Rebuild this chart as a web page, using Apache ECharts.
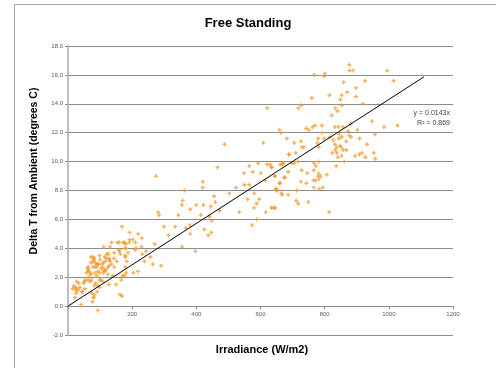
<!DOCTYPE html>
<html>
<head>
<meta charset="utf-8">
<script src="https://cdn.jsdelivr.net/npm/echarts@6/dist/echarts.min.js"></script>
<style>
  html, body { margin: 0; padding: 0; background: #fff; }
  #main { width: 496px; height: 368px; }
</style>
</head>
<body>
<div id="main"></div>
<script>
// irradiance (W/m2), delta T (degrees C) pairs
var lowCluster = [
  [15,1.2],[17,1.4],[22,0.6],[23,1.3],[25,1.1],[25,0.9],[27,1.7],[29,1.2],[32,1.1],[33,1.6],
  [37,1.3],[41,0.1],[44,1.0],[45,1.0],[49,1.6],[51,1.7],[53,1.2],[54,1.8],[58,2.3],[61,2.6],
  [62,1.8],[62,2.4],[63,2.7],[64,2.5],[66,2.0],[69,1.7],[69,2.3],[72,3.0],[72,3.4],[72,2.2],
  [74,1.8],[74,0.9],[76,0.3],[77,3.1],[78,2.7],[79,3.4],[79,0.6],[82,3.3],[82,3.2],[82,0.8],
  [82,0.6],[82,1.4],[84,2.3],[84,2.7],[85,3.0],[86,1.6],[89,2.9],[89,2.1],[90,2.7],[91,1.0],
  [93,2.4],[93,1.4],[93,-0.3],[94,2.9],[96,2.9],[98,2.3],[98,3.5],[98,1.3],[98,1.8],[100,3.2],
  [103,1.8],[104,2.6],[107,2.9],[108,1.7],[108,2.7],[110,3.0],[110,2.3],[111,4.1],[113,2.5],[114,2.4],
  [115,3.4],[116,3.1],[118,2.5],[120,3.3],[121,3.6],[124,2.2],[124,2.7],[126,3.6],[128,3.3],[128,2.8],
  [128,1.5],[128,3.2],[131,3.1],[131,4.1],[136,4.4],[136,2.9],[139,2.1],[143,3.3],[144,3.7],[144,2.7],
  [150,1.5],[152,3.1],[154,4.4],[160,3.8],[160,3.9],[160,4.4],[162,0.8],[163,3.6],[166,1.8],[168,5.5],
  [168,0.7],[170,2.1],[172,4.4],[176,4.4],[176,2.1],[178,2.7],[178,4.0],[178,3.5],[179,3.4],[180,4.3],
  [181,4.0],[181,2.3],[183,3.1],[187,3.7],[191,4.4],[192,5.1],[192,4.6],[202,4.6],[204,2.3],[209,3.9],
  [210,4.4],[212,4.0],[218,2.4],[219,5.0],[229,4.1],[230,4.7],[231,3.6],[238,3.1],[243,3.8],[257,3.4],
  [264,2.9],[270,4.3],[290,2.8]
];
var midRange = [
  [274,9.0],[281,6.5],[284,6.3],[299,5.5],[313,4.9],[334,5.5],[344,6.3],[355,7.0],[355,4.1],[357,7.3],
  [363,8.0],[367,5.4],[380,5.6],[381,6.7],[381,5.0],[397,3.8],[400,7.0],[414,6.3],[420,8.6],[420,8.2],
  [422,7.0],[425,5.3],[437,4.9],[441,6.2],[445,6.9],[447,5.1],[448,5.9],[455,7.6],[459,7.2],[466,9.6],
  [472,6.6],[488,11.2],[503,7.8],[524,8.2],[534,6.5],[549,9.2],[550,8.4],[560,7.4],[565,9.7],[565,8.4],
  [574,5.6],[576,9.3],[580,6.8],[581,7.8],[588,7.1],[588,6.0],[593,9.9],[596,7.4],[601,9.2],[609,11.3],
  [615,8.7],[616,6.5],[621,13.7],[621,9.8],[630,9.8],[634,9.6],[634,6.8],[636,9.6],[636,6.8],[643,6.8],
  [644,9.0],[645,9.0],[646,6.8],[647,8.1],[649,8.0],[650,8.1],[652,8.0],[659,12.2],[659,8.5],[661,9.8],
  [661,8.5],[664,12.0],[665,7.8],[667,9.8],[668,7.7],[670,9.9],[672,9.9],[674,8.9],[676,8.9],[682,11.6],
  [686,9.3],[686,7.7],[688,10.5],[689,10.5],[698,9.9]
];
var highRange = [
  [705,11.3],[705,9.9],[710,10.6],[711,7.3],[713,8.0],[718,13.7],[718,10.0],[718,7.1],[726,13.9],[726,11.4],
  [726,8.6],[728,9.4],[729,11.0],[735,11.0],[742,12.3],[743,8.5],[746,9.2],[749,7.2],[751,12.2],[760,14.4],
  [762,12.4],[765,8.7],[766,9.4],[766,8.2],[767,9.9],[768,16.0],[770,12.5],[772,8.7],[773,9.7],[777,11.3],
  [780,11.6],[780,9.0],[781,9.2],[782,11.0],[782,10.0],[782,8.8],[783,8.1],[787,9.0],[791,12.5],[791,12.0],
  [794,8.2],[798,11.6],[799,15.9],[801,16.1],[807,9.1],[814,6.5],[815,14.6],[816,11.7],[822,13.2],[824,10.6],
  [827,11.5],[832,12.4],[832,11.2],[833,13.7],[833,10.8],[836,9.7],[837,11.0],[838,10.6],[840,13.5],[841,10.3],
  [843,12.4],[844,11.6],[845,11.9],[848,11.1],[849,14.3],[852,11.0],[853,14.6],[853,13.9],[853,11.7],[853,10.4],
  [857,12.4],[858,10.8],[859,15.5],[861,10.0],[867,11.4],[868,10.8],[870,14.8],[873,12.1],[877,16.7],[877,16.3],
  [877,11.8],[881,12.6],[882,11.7],[888,16.3],[895,10.4],[897,15.1],[898,14.5],[902,12.2],[908,10.5],[909,11.6],
  [916,10.6],[919,14.0],[926,15.6],[927,10.3],[932,11.2],[948,12.8],[953,10.6],[957,11.9],[958,10.2],[985,12.4],
  [995,16.3],[1015,15.6],[1027,12.5]
];

// linear trend through the origin
var trendSlope = 0.0143;
var trendX = [0, 1110];
var trendLabels = ['y = 0.0143x', 'R\u00b2 = 0.869'];

var xTicks = [0, 1200, 200];
var yTicks = [-2, 18, 2];

var chart = echarts.init(document.getElementById('main'));

var plus = 'path://M1,0H2V1H3V2H2V3H1V2H0V1H1Z';
var labelFont = 'Liberation Sans';
var gridTop = 46, gridBottom = 33, chartH = 368;
// shift the x axis up so it crosses the y axis at 0
var zeroShift = (chartH - gridTop - gridBottom) * (0 - yTicks[0]) / (yTicks[1] - yTicks[0]);

var option = {
  backgroundColor: '#fff',
  animation: false,
  title: {
    text: 'Free Standing',
    left: 'center',
    top: 12,
    textStyle: { fontFamily: labelFont, fontWeight: 'bold', fontSize: 13, color: '#000' }
  },
  grid: { left: 68, right: 43, top: gridTop, bottom: gridBottom },
  xAxis: {
    type: 'value',
    min: xTicks[0], max: xTicks[1], interval: xTicks[2],
    offset: -zeroShift,
    axisLine: { onZero: false, lineStyle: { color: '#8c8c8c', width: 1 } },
    axisTick: { show: true, length: 3, lineStyle: { color: '#8c8c8c' } },
    axisLabel: {
      fontSize: 6, color: '#595959', fontFamily: labelFont, margin: 5,
      formatter: function (v) { return v === 0 ? '' : v; }
    },
    splitLine: { show: false }
  },
  yAxis: {
    type: 'value',
    min: yTicks[0], max: yTicks[1], interval: yTicks[2],
    axisLine: { show: true, lineStyle: { color: '#bfbfbf', width: 2 } },
    axisTick: { show: true, length: 3, lineStyle: { color: '#8c8c8c' } },
    axisLabel: {
      fontSize: 6, color: '#595959', fontFamily: labelFont, margin: 5,
      formatter: function (v) { return v.toFixed(1); }
    },
    splitLine: { show: true, lineStyle: { color: '#8c8c8c', width: 1 } }
  },
  series: [
    {
      type: 'scatter',
      symbol: plus,
      symbolSize: 4,
      itemStyle: { color: '#F39A2B' },
      data: lowCluster.concat(midRange, highRange),
      z: 3
    },
    {
      type: 'line',
      showSymbol: false,
      lineStyle: { color: '#000', width: 1 },
      data: trendX.map(function (x) { return [x, x * trendSlope]; }),
      z: 4
    }
  ],
  graphic: [
    {
      type: 'rect', x: 14.5, y: 4.5, silent: true,
      shape: { width: 600, height: 500 },
      style: { fill: 'none', stroke: '#a6a6a6', lineWidth: 1 }
    },
    {
      type: 'text', x: 34, y: 171, rotation: Math.PI / 2,
      style: {
        text: 'Delta T from Ambient (degrees C)', fontFamily: labelFont, fontWeight: 'bold',
        fontSize: 10.5, fill: '#000', textAlign: 'center', textVerticalAlign: 'middle'
      }
    },
    {
      type: 'text', x: 262, y: 350,
      style: {
        text: 'Irradiance (W/m2)', fontFamily: labelFont, fontWeight: 'bold',
        fontSize: 11, fill: '#000', textAlign: 'center', textVerticalAlign: 'middle'
      }
    },
    {
      type: 'text', x: 450, y: 113,
      style: { text: trendLabels[0], fontFamily: labelFont, fontSize: 7, fill: '#404040', textAlign: 'right', textVerticalAlign: 'middle' }
    },
    {
      type: 'text', x: 450, y: 123,
      style: { text: trendLabels[1], fontFamily: labelFont, fontSize: 7, fill: '#404040', textAlign: 'right', textVerticalAlign: 'middle' }
    }
  ]
};

chart.setOption(option);
</script>
</body>
</html>
